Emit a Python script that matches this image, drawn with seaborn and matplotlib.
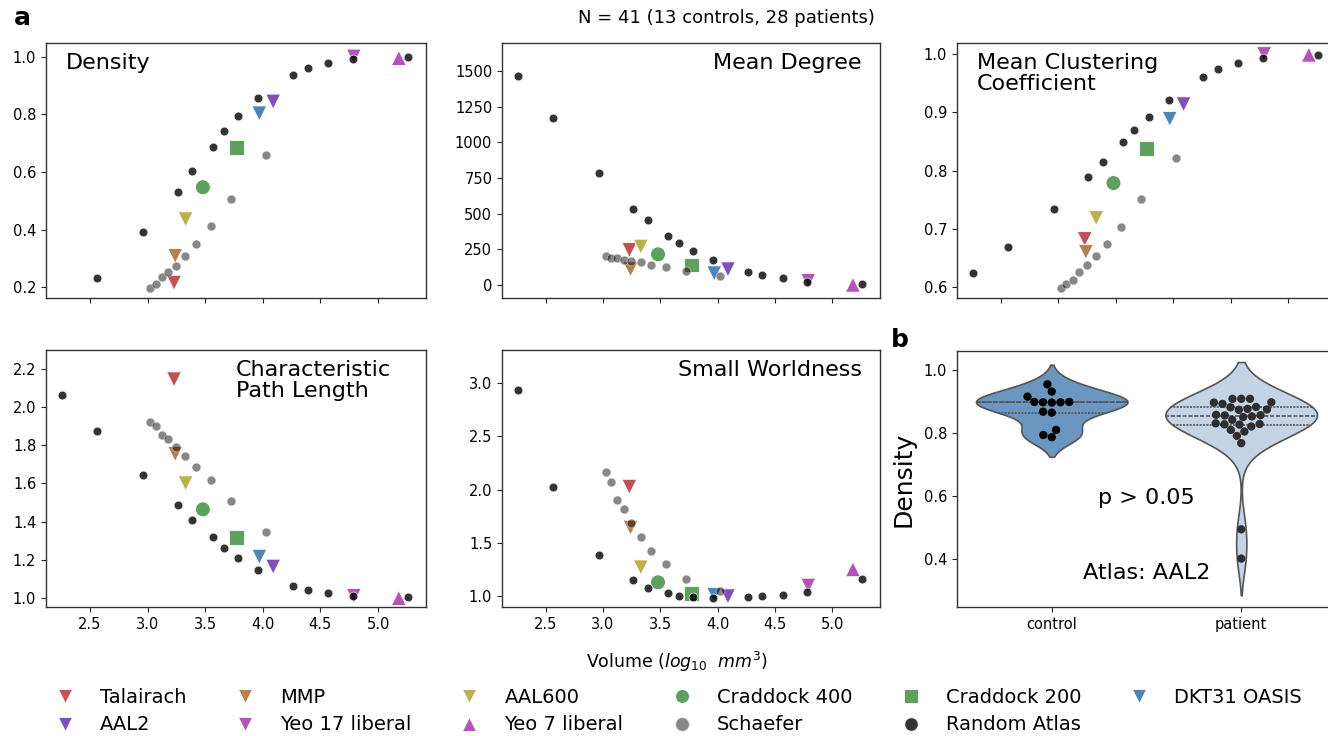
import numpy as np
import pandas as pd
import matplotlib
matplotlib.use("Agg")
import matplotlib.pyplot as plt
import seaborn as sns
from matplotlib.lines import Line2D

sns.set_style("ticks")
plt.rcParams['font.family'] = ['DejaVu Sans']
plt.rcParams.update({
    'axes.edgecolor': '.2', 'axes.linewidth': 1.0,
    'text.color': 'black', 'axes.labelcolor': 'black',
    'xtick.color': '.15', 'ytick.color': '.15',
    'xtick.labelcolor': 'black', 'ytick.labelcolor': 'black',
    'xtick.major.size': 3.5, 'ytick.major.size': 3.5,
    'xtick.labelsize': 10.5, 'ytick.labelsize': 10.5,
})

# ---------------- data ----------------
atlas_names = ["Talairach", "MMP", "AAL600", "Craddock 400", "Craddock 200",
               "DKT31 OASIS", "AAL2", "Yeo 17 liberal", "Yeo 7 liberal"]
atlas_volume = [3.23, 3.24, 3.33, 3.48, 3.77, 3.97, 4.09, 4.79, 5.18]
atlas_density = [0.216, 0.309, 0.436, 0.547, 0.686, 0.803, 0.844, 1.0, 0.995]
atlas_degree = [245, 110, 269, 215, 140, 82, 110, 28, 2]
atlas_clustering = [0.683, 0.661, 0.719, 0.779, 0.838, 0.889, 0.914, 1.0, 0.999]
atlas_pathlength = [2.147, 1.755, 1.601, 1.464, 1.317, 1.215, 1.163, 1.009, 0.998]
atlas_smallworld = [2.026, 1.643, 1.271, 1.131, 1.028, 1.012, 1.0, 1.100, 1.253]

schaefer_volume = [3.023, 3.07, 3.125, 3.181, 3.248, 3.328, 3.422, 3.548, 3.723, 4.024]
schaefer_density = [0.199, 0.210, 0.235, 0.252, 0.275, 0.310, 0.351, 0.412, 0.506, 0.659]
schaefer_degree = [201, 189, 187, 178, 168, 159, 140, 124, 100, 65]
schaefer_clustering = [0.599, 0.606, 0.613, 0.626, 0.638, 0.654, 0.675, 0.704, 0.751, 0.822]
schaefer_pathlength = [1.925, 1.902, 1.855, 1.832, 1.794, 1.746, 1.688, 1.617, 1.506, 1.343]
schaefer_smallworld = [2.164, 2.073, 1.905, 1.814, 1.690, 1.558, 1.427, 1.300, 1.165, 1.050]

random_volume = [2.26, 2.565, 2.962, 3.262, 3.389, 3.565, 3.661, 3.785, 3.962,
                 4.263, 4.388, 4.566, 4.782, 5.261]
random_density = [np.nan, 0.232, 0.391, 0.531, 0.605, 0.688, 0.742, 0.794, 0.858,
                  0.936, 0.960, 0.977, 0.991, 0.998]
random_degree = [1465, 1168, 787, 533, 453, 343, 297, 238, 173, 93, 70, 49, 22, 9]
random_clustering = [0.624, 0.669, 0.735, 0.790, 0.815, 0.849, 0.870, 0.892, 0.922,
                     0.961, 0.974, 0.985, 0.993, 0.999]
random_pathlength = [2.062, 1.874, 1.646, 1.485, 1.406, 1.319, 1.263, 1.207, 1.144,
                     1.063, 1.042, 1.023, 1.010, 1.002]
random_smallworld = [2.928, 2.023, 1.387, 1.156, 1.078, 1.028, 1.006, 0.991, 0.988,
                     0.994, 1.003, 1.016, 1.041, 1.162]

control_density = [0.954, 0.931, 0.915, 0.898, 0.898, 0.897, 0.897, 0.896, 0.867,
                   0.864, 0.809, 0.793, 0.786]
patient_density = [0.908, 0.908, 0.908, 0.897, 0.896, 0.892, 0.882, 0.881, 0.876,
                   0.874, 0.873, 0.857, 0.852, 0.850, 0.856, 0.855, 0.841, 0.830,
                   0.828, 0.827, 0.826, 0.820, 0.809, 0.804, 0.790, 0.767, 0.493, 0.400]

metric_titles = ["Density", "Mean Degree", "Mean Clustering\nCoefficient",
                 "Characteristic\nPath Length", "Small Worldness"]

# legend order (column-major fill -> two rows as in the reference)
legend_order = ["Talairach", "AAL2", "MMP", "Yeo 17 liberal", "AAL600", "Yeo 7 liberal",
                "Craddock 400", "Schaefer", "Craddock 200", "Random Atlas", "DKT31 OASIS"]

# ---------------- styles ----------------
palette = {"Talairach": "#bf5256", "MMP": "#b5804f", "AAL600": "#b8b24f",
           "Craddock 400": "#5f9f5f", "Craddock 200": "#5f9f5f",
           "DKT31 OASIS": "#4e85b8", "AAL2": "#7f50b5",
           "Yeo 17 liberal": "#b453b8", "Yeo 7 liberal": "#b453b8"}
markers = {"Talairach": "v", "MMP": "v", "AAL600": "v", "Craddock 400": "o",
           "Craddock 200": "s", "DKT31 OASIS": "v", "AAL2": "v",
           "Yeo 17 liberal": "v", "Yeo 7 liberal": "^"}

atlas_df = pd.DataFrame({"atlas": atlas_names, "volume": atlas_volume,
                         "m0": atlas_density, "m1": atlas_degree, "m2": atlas_clustering,
                         "m3": atlas_pathlength, "m4": atlas_smallworld})
schaefer_df = pd.DataFrame({"volume": schaefer_volume, "m0": schaefer_density,
                            "m1": schaefer_degree, "m2": schaefer_clustering,
                            "m3": schaefer_pathlength, "m4": schaefer_smallworld})
random_df = pd.DataFrame({"volume": random_volume, "m0": random_density,
                          "m1": random_degree, "m2": random_clustering,
                          "m3": random_pathlength, "m4": random_smallworld})

W, H = 1328, 736
fig = plt.figure(figsize=(W / 100, H / 100), dpi=100)


def add_ax(l, t, w, h):
    return fig.add_axes([l / W, 1 - (t + h) / H, w / W, h / H])


ax_specs = [(46, 43, 380, 255), (502, 43, 378, 255), (957, 43, 379, 255),
            (46, 350, 380, 257), (502, 350, 378, 257)]
ylims = [(0.163, 1.047), (-91, 1696), (0.582, 1.019), (0.951, 2.301), (0.900, 3.306)]
yticks = [np.arange(0.2, 1.01, 0.2), np.arange(0, 1501, 250), np.arange(0.6, 1.01, 0.1),
          np.arange(1.0, 2.21, 0.2), np.arange(1.0, 3.01, 0.5)]
title_pos = [(0.053, "left"), (0.952, "right"), (0.053, "left"), (0.5, "left"), (0.952, "right")]

axes = []
for i, spec in enumerate(ax_specs):
    ax = add_ax(*spec)
    axes.append(ax)
    m = f"m{i}"
    sns.scatterplot(data=atlas_df, x="volume", y=m, hue="atlas", style="atlas",
                    palette=palette, markers=markers, s=115, edgecolor="white",
                    linewidth=0.6, legend=False, ax=ax)
    sns.scatterplot(data=schaefer_df, x="volume", y=m, color="black", alpha=0.47,
                    s=40, edgecolor="white", linewidth=0.6, legend=False, ax=ax)
    sns.scatterplot(data=random_df, x="volume", y=m, color="black", alpha=0.8,
                    s=40, edgecolor="white", linewidth=0.6, legend=False, ax=ax)
    ax.set_xlim(2.119, 5.416)
    ax.set_xticks(np.arange(2.5, 5.01, 0.5))
    ax.set_ylim(*ylims[i])
    ax.set_yticks(yticks[i])
    ax.set_xlabel("")
    ax.set_ylabel("")
    if i < 3:
        ax.tick_params(labelbottom=False)
    x, ha = title_pos[i]
    ax.text(x, 0.96, metric_titles[i], transform=ax.transAxes, ha=ha, va="top",
            fontsize=16, linespacing=1.05)

axes[1].yaxis.set_major_formatter(matplotlib.ticker.FormatStrFormatter("%d"))

# ---------------- violin ----------------
axv = add_ax(957, 351, 379, 256)
vdf = pd.DataFrame({"group": ["control"] * len(control_density) + ["patient"] * len(patient_density),
                    "Density": control_density + patient_density})
sns.violinplot(data=vdf, x="group", y="Density", hue="group",
               palette={"control": "#6b96c0", "patient": "#c4d4e5"}, saturation=1,
               inner="quart", linewidth=1.2, linecolor="#555555", legend=False, ax=axv)
sns.swarmplot(data=vdf, x="group", y="Density", hue="group",
              palette={"control": "black", "patient": "#2e2e2e"}, size=6,
              legend=False, ax=axv)
axv.set_xlim(-0.5, 1.5)
axv.set_ylim(0.246, 1.06)
axv.set_yticks([0.4, 0.6, 0.8, 1.0])
axv.set_xlabel("")
axv.set_ylabel("Density", fontsize=18, labelpad=6)
axv.text(0.5, 0.593, "p > 0.05", ha="center", va="center", fontsize=16)
axv.text(0.5, 0.354, "Atlas: AAL2", ha="center", va="center", fontsize=16)

# ---------------- figure texts ----------------
fig.text(726 / W, 1 - 18 / H, "N = 41 (13 controls, 28 patients)", ha="center",
         va="center", fontsize=13)
fig.text(677 / W, 1 - 662 / H, r"Volume ($log_{10}$  $mm^3$)", ha="center",
         va="center", fontsize=12.5)
fig.text(22 / W, 1 - 18 / H, "a", ha="center", va="center", fontsize=18, fontweight="bold")
fig.text(900 / W, 1 - 340 / H, "b", ha="center", va="center", fontsize=18, fontweight="bold")

# ---------------- legend ----------------
handle_map = {}
for name in atlas_names:
    handle_map[name] = Line2D([], [], linestyle="", marker=markers[name], color=palette[name],
                              markeredgecolor="white", markeredgewidth=0.6, markersize=10,
                              label=name)
handle_map["Schaefer"] = Line2D([], [], linestyle="", marker="o", color="black", alpha=0.47,
                                markeredgecolor="white", markersize=10, label="Schaefer")
handle_map["Random Atlas"] = Line2D([], [], linestyle="", marker="o", color="black", alpha=0.8,
                                    markeredgecolor="white", markersize=10, label="Random Atlas")
handles = [handle_map[n] for n in legend_order]
fig.legend(handles=handles, ncol=6, loc="center left", bbox_to_anchor=(0.021, 0.034),
           frameon=False, fontsize=14, labelspacing=0.45, columnspacing=2.0)

fig.savefig("out.png", dpi=100)
